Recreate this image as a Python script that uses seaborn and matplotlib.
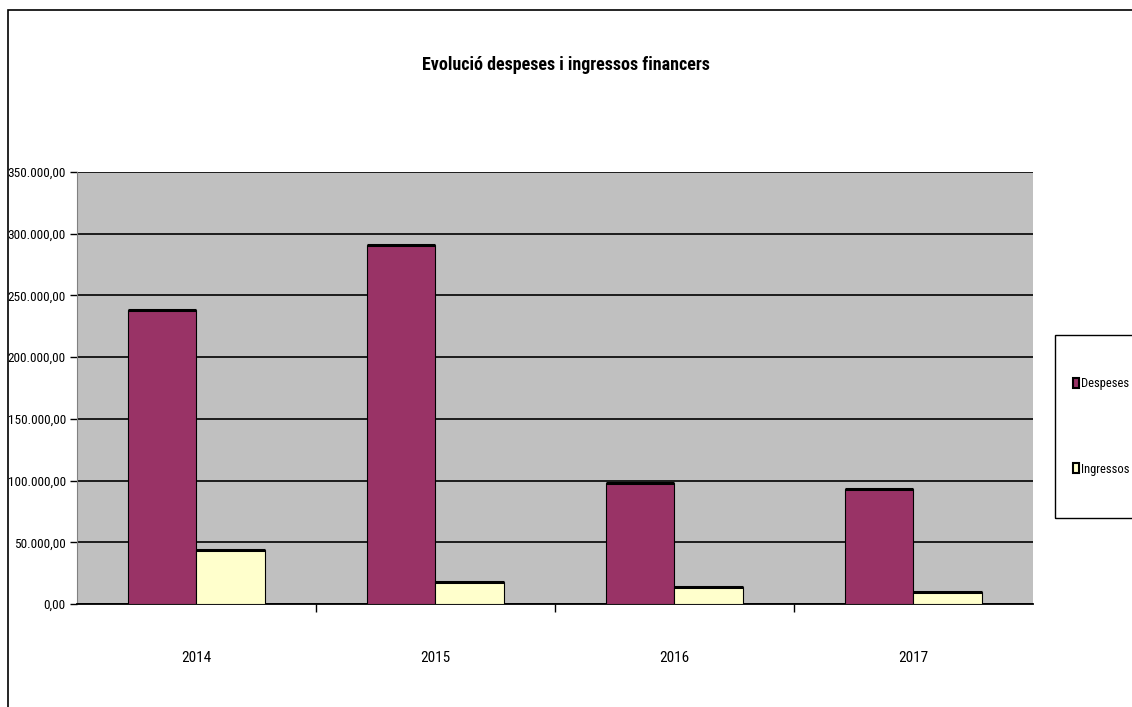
import numpy as np
import pandas as pd
import matplotlib.pyplot as plt
import matplotlib.ticker as mticker
from matplotlib.patches import Rectangle, Patch
import seaborn as sns

years = ["2014", "2015", "2016", "2017"]
despeses = [238000, 290500, 98000, 93500]
ingressos = [43900, 18100, 14000, 9500]

data = pd.DataFrame({
    "any": years * 2,
    "valor": despeses + ingressos,
    "tipus": ["Despeses"] * 4 + ["Ingressos"] * 4,
})

sns.set_style("white")
plt.rcParams["font.family"] = ["Roboto Condensed", "DejaVu Sans"]
plt.rcParams["text.color"] = "black"
plt.rcParams["xtick.color"] = "black"
plt.rcParams["ytick.color"] = "black"

fig = plt.figure(figsize=(11.32, 7.07), dpi=100)
ax = fig.add_axes([0.068, 0.1457, 0.8445, 0.611])
ax.set_facecolor("#c0c0c0")

colors = {"Despeses": "#993366", "Ingressos": "#ffffcc"}
sns.barplot(data=data, x="any", y="valor", hue="tipus", palette=colors,
            saturation=1, width=0.574, edgecolor="black", linewidth=0.8,
            ax=ax, legend=False, zorder=3)

# thick top edge like the original
for p in ax.patches:
    x0 = p.get_x()
    w = p.get_width()
    h = p.get_height()
    ax.plot([x0, x0 + w], [h, h], color="black", lw=2.2, zorder=4, solid_capstyle="butt")

ax.set_ylim(0, 350000)
ax.set_xlim(-0.5, 3.5)
ax.yaxis.set_major_locator(mticker.MultipleLocator(50000))
ax.yaxis.set_major_formatter(mticker.FuncFormatter(
    lambda v, _: f"{v:,.2f}".replace(",", "X").replace(".", ",").replace("X", ".")))
ax.grid(axis="y", color="black", lw=1.2, zorder=1)
ax.set_axisbelow(True)

ax.set_xlabel("")
ax.set_ylabel("")
ax.tick_params(axis="y", which="major", left=True, length=5, width=1, labelsize=9.5, pad=3)
ax.tick_params(axis="x", which="major", bottom=False, labelsize=11, pad=30)
ax.set_xticks(range(4))
ax.set_xticklabels(years)
ax.set_xticks([0.5, 1.5, 2.5], minor=True)
ax.tick_params(axis="x", which="minor", bottom=True, length=6, width=1)

for s in ["top", "right"]:
    ax.spines[s].set_visible(False)
ax.spines["left"].set_color("#808080")
ax.spines["bottom"].set_color("black")
ax.spines["bottom"].set_linewidth(1.3)

fig.text(0.5, 0.908, "Evolució despeses i ingressos financers", ha="center",
         va="center", fontsize=13, fontweight="bold")

# legend box
fig.add_artist(Rectangle((0.932, 0.2673), 0.1, 0.2588, transform=fig.transFigure,
                         fill=False, edgecolor="black", lw=1))
handles = [Patch(facecolor=colors[k], edgecolor="black", lw=1.5) for k in ["Despeses", "Ingressos"]]
leg = fig.legend(handles, ["Despeses", "Ingressos"], loc="upper left",
                 bbox_to_anchor=(1073 / 1132, 1 - 377 / 707), fontsize=9,
                 frameon=False, handlelength=0.5, handleheight=0.9,
                 handletextpad=0.15, labelspacing=5.8, borderpad=0,
                 borderaxespad=0)

# outer chart border
fig.add_artist(Rectangle((0.007, -0.05), 1.1, 1.036, transform=fig.transFigure,
                         fill=False, edgecolor="black", lw=1.2))

fig.savefig("out.png", dpi=100)
